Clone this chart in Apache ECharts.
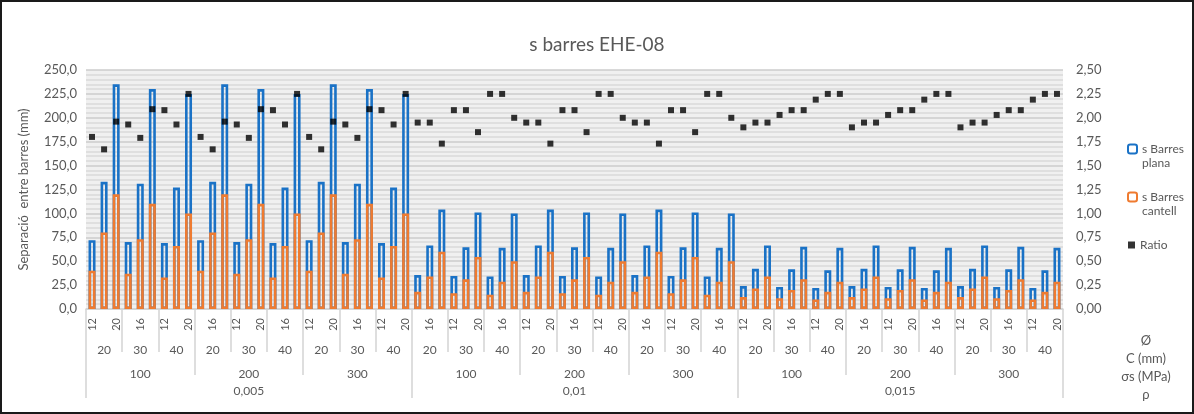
<!DOCTYPE html>
<html>
<head>
<meta charset="utf-8">
<script src="https://cdn.jsdelivr.net/npm/echarts@6/dist/echarts.min.js"></script>
<style>
html,body{margin:0;padding:0;background:#fff;}
#frame{width:1194px;height:414px;box-sizing:border-box;border:2px solid #1a1a1a;position:relative;overflow:hidden;}
#chart{position:absolute;left:-2px;top:-2px;width:1194px;height:414px;}
</style>
</head>
<body>
<div id="frame"><div id="chart"></div></div>
<script>
// ---- category levels ----
const rhoLabels   = ['0,005', '0,01', '0,015'];
const sigmaLabels = ['100', '200', '300'];
const coverLabels = ['20', '30', '40'];
const diamLabels  = ['12', '16', '20'];

// ---- series values, 27 per rho group ----
const plana0005 = [72,133,235, 70,131,230, 69,127,225,  72,133,235, 70,131,230, 69,127,225,  72,133,235, 70,131,230, 69,127,225];
const plana001  = [35.5,66.5,104, 34.5,64.5,101, 34,64,100,  35.5,66.5,104, 34.5,64.5,101, 34,64,100,  35.5,66.5,104, 34.5,64.5,101, 34,64,100];
const plana0015 = [24,42,66.5, 23,41.5,65, 22,40.5,64,  24,42,66.5, 23,41.5,65, 22,40.5,64,  24,42,66.5, 23,41.5,65, 22,40.5,64];

const cantell0005 = [40,80,120, 37,73,110, 33,66,100,  40,80,120, 37,73,110, 33,66,100,  40,80,120, 37,73,110, 33,66,100];
const cantell001  = [18,34,60, 16.5,31,54.5, 15,28.5,50,  18,34,60, 16.5,31,54.5, 15,28.5,50,  18,34,60, 16.5,31,54.5, 15,28.5,50];
const cantell0015 = [12.5,21.5,34, 11.3,20,31.2, 10,18,28.5,  12.5,21.5,34, 11.3,20,31.2, 10,18,28.5,  12.5,21.5,34, 11.3,20,31.2, 10,18,28.5];

const ratio0005 = [1.80,1.67,1.96, 1.93,1.79,2.09, 2.08,1.93,2.25,  1.80,1.67,1.96, 1.93,1.79,2.09, 2.08,1.93,2.25,  1.80,1.67,1.96, 1.93,1.79,2.09, 2.08,1.93,2.25];
const ratio001  = [1.95,1.95,1.73, 2.08,2.08,1.85, 2.25,2.25,2.00,  1.95,1.95,1.73, 2.08,2.08,1.85, 2.25,2.25,2.00,  1.95,1.95,1.73, 2.08,2.08,1.85, 2.25,2.25,2.00];
const ratio0015 = [1.90,1.95,1.95, 2.03,2.08,2.08, 2.19,2.25,2.25,  1.90,1.95,1.95, 2.03,2.08,2.08, 2.19,2.25,2.25,  1.90,1.95,1.95, 2.03,2.08,2.08, 2.19,2.25,2.25];

const leftTicks  = {min: 0, max: 250, interval: 25};
const rightTicks = {min: 0, max: 2.5, interval: 0.25};

// ---- build axis category lists ----
const diamCats = [], coverCats = [], sigmaCats = [], rhoCats = [];
rhoLabels.forEach(r => {
  rhoCats.push(r);
  sigmaLabels.forEach(s => {
    sigmaCats.push(s);
    coverLabels.forEach(c => {
      coverCats.push(c);
      diamLabels.forEach(d => diamCats.push(d));
    });
  });
});
const plana   = plana0005.concat(plana001, plana0015);
const cantell = cantell0005.concat(cantell001, cantell0015);
const ratio   = ratio0005.concat(ratio001, ratio0015);

const FONT = 'Lato, "Open Sans", sans-serif';
const TXT = '#595959';
const SEP = '#d4d4d4';

const chart = echarts.init(document.getElementById('chart'), null, {renderer: 'canvas'});
const option = {
  animation: false,
  textStyle: {fontFamily: FONT},
  title: {
    text: 's barres EHE-08', left: 'center', top: 30,
    textStyle: {fontSize: 19, fontWeight: 'normal', color: TXT, fontFamily: FONT}
  },
  legend: [
    {data: ['s Barres plana'], orient: 'vertical', left: 1122, top: 123, itemWidth: 9, itemHeight: 9,
     formatter: () => '\ns Barres\nplana', textStyle: {color: TXT, fontSize: 12, lineHeight: 14, fontFamily: FONT}},
    {data: ['s Barres cantell'], orient: 'vertical', left: 1122, top: 171, itemWidth: 9, itemHeight: 9,
     formatter: () => '\ns Barres\ncantell', textStyle: {color: TXT, fontSize: 12, lineHeight: 14, fontFamily: FONT}},
    {data: ['Ratio'], orient: 'vertical', left: 1123, top: 234, itemWidth: 7, itemHeight: 7,
     textStyle: {color: TXT, fontSize: 12, fontFamily: FONT}}
  ],
  grid: {left: 86, right: 131, top: 70, bottom: 105, show: true, backgroundColor: '#f0f0f0', borderWidth: 0,
         containLabel: false, outerBoundsMode: 'none'},
  xAxis: [
    {type: 'category', data: diamCats, position: 'bottom',
     axisLine: {lineStyle: {color: SEP, width: 1.5}}, axisTick: {show: false},
     axisLabel: {interval: 1, rotate: 90, fontSize: 11, color: TXT, margin: 9, fontFamily: FONT}},
    {type: 'category', data: coverCats, position: 'bottom', offset: 0,
     axisLine: {show: false},
     axisTick: {show: true, interval: 0, length: 43, lineStyle: {color: SEP, width: 1.5}},
     axisLabel: {interval: 0, margin: 35, fontSize: 12, color: TXT, fontFamily: FONT}},
    {type: 'category', data: sigmaCats, position: 'bottom', offset: 0,
     axisLine: {show: false},
     axisTick: {show: true, interval: 0, length: 66, lineStyle: {color: SEP, width: 1.5}},
     axisLabel: {interval: 0, margin: 59, fontSize: 12, color: TXT, fontFamily: FONT}},
    {type: 'category', data: rhoCats, position: 'bottom', offset: 0,
     axisLine: {show: false},
     axisTick: {show: true, interval: 0, length: 89, lineStyle: {color: SEP, width: 1.5}},
     axisLabel: {interval: 0, margin: 76, fontSize: 12, color: TXT, fontFamily: FONT}}
  ],
  yAxis: [
    {type: 'value', min: leftTicks.min, max: leftTicks.max, interval: leftTicks.interval, position: 'left',
     name: 'Separació  entre barres (mm)', nameLocation: 'middle', nameGap: 56,
     nameTextStyle: {fontSize: 13, color: TXT, fontFamily: FONT},
     axisLine: {show: false}, axisTick: {show: false},
     axisLabel: {fontSize: 13, color: TXT, margin: 9, fontFamily: FONT,
                 formatter: v => v.toFixed(1).replace('.', ',')},
     splitLine: {show: true, lineStyle: {color: '#cccccc', width: 1.5}},
     minorTick: {show: false, splitNumber: 5},
     minorSplitLine: {show: true, lineStyle: {color: '#d9d9d9', width: 1.5}}},
    {type: 'value', min: rightTicks.min, max: rightTicks.max, interval: rightTicks.interval, position: 'right',
     axisLine: {show: false}, axisTick: {show: false}, splitLine: {show: false},
     axisLabel: {fontSize: 13, color: TXT, margin: 13, fontFamily: FONT,
                 formatter: v => v.toFixed(2).replace('.', ',')}}
  ],
  graphic: [
    {type: 'text', x: 1146, y: 334, style: {text: 'Ø', fill: TXT, font: '13px ' + FONT, textAlign: 'center'}},
    {type: 'text', x: 1146, y: 352, style: {text: 'C (mm)', fill: TXT, font: '13px ' + FONT, textAlign: 'center'}},
    {type: 'text', x: 1146, y: 370, style: {text: 'σs (MPa)', fill: TXT, font: '13px ' + FONT, textAlign: 'center'}},
    {type: 'text', x: 1146, y: 388, style: {text: 'ρ', fill: TXT, font: '13px ' + FONT, textAlign: 'center'}}
  ],
  series: [
    {name: 's Barres plana', type: 'bar', xAxisIndex: 0, yAxisIndex: 0, data: plana,
     barWidth: 7, barGap: '-100%',
     itemStyle: {color: 'rgba(0,0,0,0)', borderColor: '#1a72c6', borderWidth: 2.6}},
    {name: 's Barres cantell', type: 'bar', xAxisIndex: 0, yAxisIndex: 0, data: cantell,
     barWidth: 7, barGap: '-100%',
     itemStyle: {color: 'rgba(0,0,0,0)', borderColor: '#ef7b30', borderWidth: 2.6}},
    {name: 'Ratio', type: 'scatter', xAxisIndex: 0, yAxisIndex: 1, data: ratio,
     symbol: 'rect', symbolSize: 6, itemStyle: {color: '#000'}, z: 5}
  ]
};
chart.setOption(option);
</script>
</body>
</html>
